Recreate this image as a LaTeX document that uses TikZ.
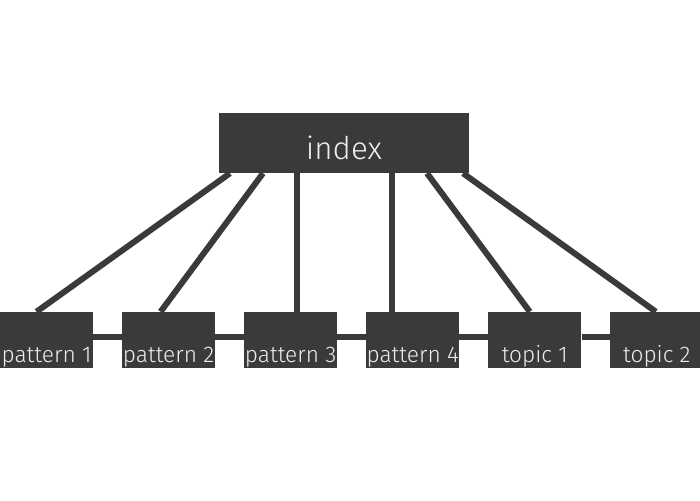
\documentclass[tikz,border=0pt]{standalone}
\usepackage{fontspec}
\setmainfont{Fira Sans}[UprightFont=* Light]
\usepackage{tikz}
\usetikzlibrary{positioning, calc}
\definecolor{boxdark}{HTML}{3A3A3A}
\definecolor{boxtext}{HTML}{EEEEEE}
\tikzset{
    topbox/.style={rectangle, fill=boxdark, text=boxtext, minimum width=187.5pt, inner sep=0pt, text height=35.25pt, text depth=9.75pt, font=\fontsize{23.5}{26}\selectfont},
    leafbox/.style={rectangle, fill=boxdark, text=boxtext, minimum width=69.75pt, inner sep=0pt, text height=38.25pt, text depth=3.75pt, font=\fontsize{17}{20}\selectfont},
    link/.style={draw=boxdark, line width=4.5pt}
}
\begin{document}
\begin{tikzpicture}[x=0.75pt, y=0.75pt]
    \useasboundingbox (0,0) rectangle (700,500);

    % Nodes
    \node [topbox] (index) at (344,357) {index};
    \node [leafbox] (p1) at (46.5,160) {pattern 1};
    \node [leafbox, right=21.4pt of p1] (p2) {pattern 2};
    \node [leafbox, right=21.4pt of p2] (p3) {pattern 3};
    \node [leafbox, right=21.4pt of p3] (p4) {pattern 4};
    \node [leafbox, right=21.4pt of p4] (t1) {topic 1};
    \node [leafbox, right=21.4pt of t1] (t2) {topic 2};

    % Links
    \coordinate (l3) at ($(index.south)+(-47,0)$);
    \coordinate (l4) at ($(index.south)+(48,0)$);
    \draw [link] ($(index.south)+(-114,0)$) -- ($(p1.north)+(-10,0)$);
    \draw [link] ($(index.south)+(-81,0)$) -- ($(p2.north)+(-8,0)$);
    \draw [link] (l3) -- (l3 |- p3.north);
    \draw [link] (l4) -- (l4 |- p4.north);
    \draw [link] ($(index.south)+(83,0)$) -- ($(t1.north)+(-5,0)$);
    \draw [link] ($(index.south)+(119,0)$) -- ($(t2.north)+(-1,0)$);

    \foreach \a/\b in {p1/p2, p2/p3, p3/p4, p4/t1, t1/t2}
        \draw [link] ($(\a.east)+(0,3)$) -- ($(\b.west)+(0,3)$);
\end{tikzpicture}
\end{document}
